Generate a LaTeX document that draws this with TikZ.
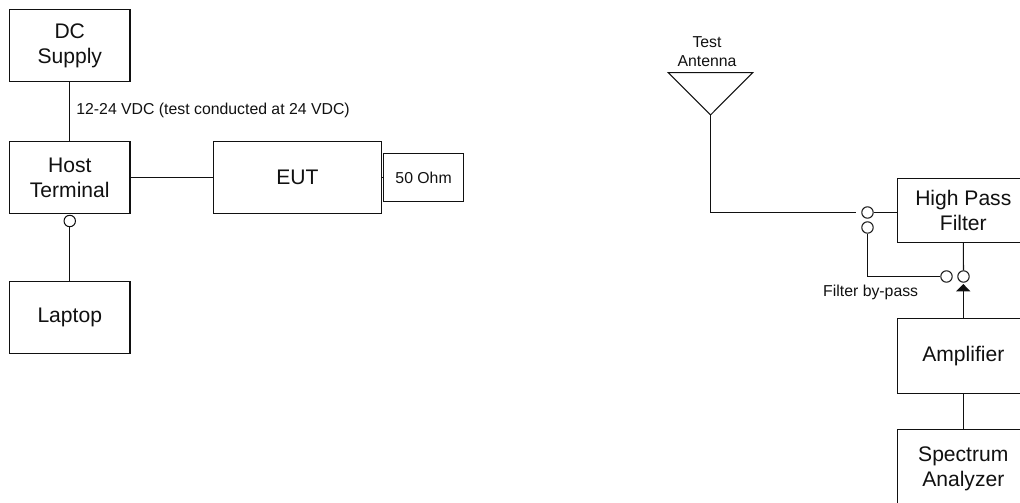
\documentclass[tikz,border=0pt]{standalone}
\usepackage{fontspec}
\setmainfont{Liberation Sans}
\usepackage{xcolor}
\usetikzlibrary{arrows.meta,positioning,calc}
\definecolor{cInk}{HTML}{111111}
\tikzset{
  bx/.style={draw=cInk,fill=white,line width=0.6pt,align=center,font=\fontsize{12}{14.2}\selectfont,inner sep=2pt,text=cInk},
  unit/.style={bx,minimum width=2.41cm,minimum height=1.44cm},
  rack/.style={bx,minimum width=2.64cm},
  wire/.style={line width=0.6pt,color=cInk},
  arr/.style={-{Triangle[length=0.146cm,width=0.28cm]},line width=0.6pt,color=cInk},
  lbl/.style={font=\fontsize{9}{10.8}\selectfont,text=cInk,align=center,inner sep=0pt},
  hole/.style={circle,draw=cInk,fill=white,line width=0.6pt,minimum size=0.228cm,inner sep=0pt},
}
\begin{document}
\begin{tikzpicture}[x=1cm,y=1cm]
  \useasboundingbox (0,0) rectangle (20.4,10.04);
  \clip (0,0) rectangle (20.4,10.04);
  % bench supply side
  \node[unit] (dc) at (1.395,9.13) {DC\\Supply};
  \node[unit] (host) at (1.395,6.49) {Host\\Terminal};
  \node[unit] (laptop) at (1.395,3.69) {Laptop};
  \node[bx,minimum width=3.368cm,minimum height=1.432cm] (eut) at (5.95,6.49) {EUT};
  \node[bx,font=\fontsize{9}{10.8}\selectfont,minimum width=1.614cm,minimum height=0.954cm] (ohm) at (8.472,6.49) {50 Ohm};
  \node[hole] (hostport) at (1.395,5.62) {};
  \node[lbl,anchor=west] (vdc) at (1.52,7.83) {12-24 VDC (test conducted at 24 VDC)};
  \draw[wire] (dc) -- (host);
  \draw[wire] (host) -- (eut);
  \draw[wire] (eut) -- (ohm);
  \draw[wire] (hostport) -- (laptop);
  % receive chain
  \coordinate (antl) at (13.366,8.586);
  \coordinate (antr) at (15.054,8.586);
  \coordinate (anttip) at (14.21,7.74);
  \draw[wire] (antl) -- (antr) -- (anttip) -- cycle;
  \node[lbl] (antlbl) at (14.14,9.01) {Test\\Antenna};
  \node[rack,minimum height=1.28cm] (hpf) at (19.266,5.83) {High Pass\\Filter};
  \node[rack,minimum height=1.5cm] (amp) at (19.266,2.914) {Amplifier};
  \node[rack,minimum height=1.58cm] (spec) at (19.266,0.664) {Spectrum\\Analyzer};
  \node[hole] (swa) at (17.35,5.79) {};
  \node[hole] (swb) at (17.35,5.49) {};
  \node[hole] (swc) at (18.93,4.51) {};
  \node[hole] (swd) at (19.27,4.51) {};
  \coordinate (amptip) at (19.266,4.36);
  \node[lbl] (bypass) at (17.414,4.20) {Filter by-pass};
  \draw[wire,shorten >=0.1cm] (anttip) |- (swa);
  \draw[wire] (swa) -- (swa -| hpf.west);
  \draw[wire] (swb) |- (swc);
  \draw[wire] (hpf) -- (swd);
  \draw[arr] (amp) -- (amptip);
  \draw[wire] (amp) -- (spec);
\end{tikzpicture}
\end{document}
